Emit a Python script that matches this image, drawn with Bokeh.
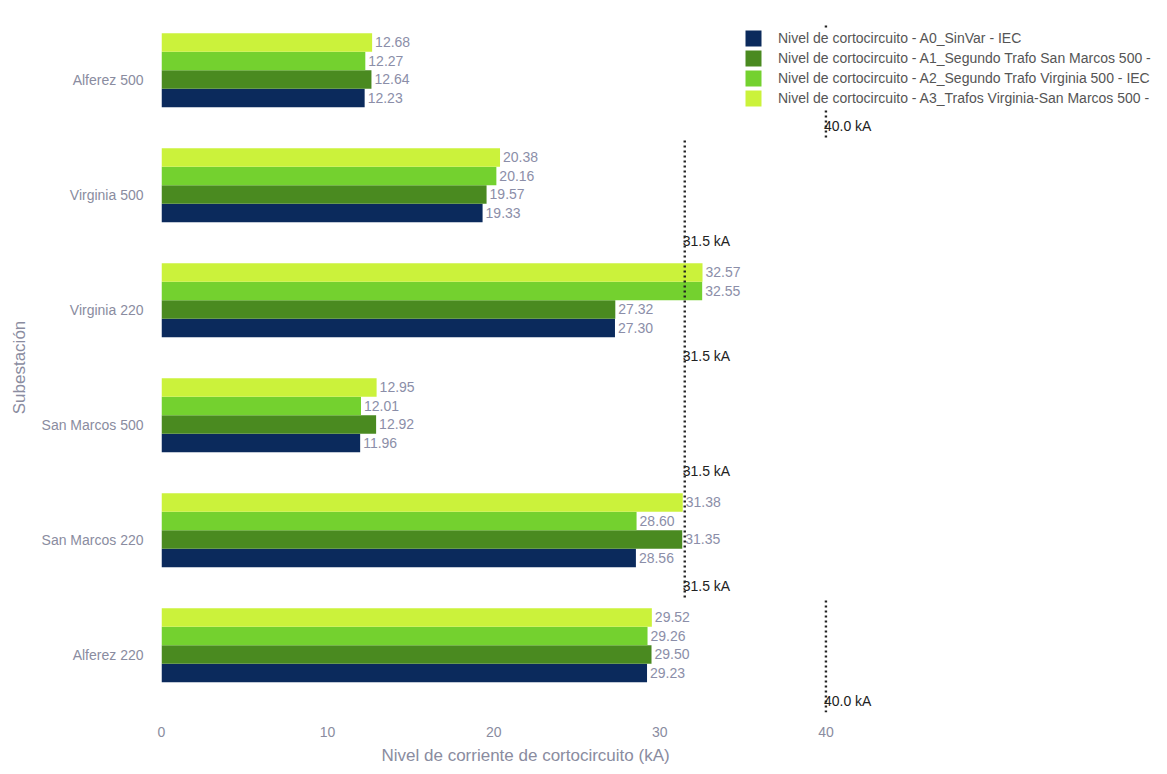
from bokeh.plotting import figure
from bokeh.models import (ColumnDataSource, FactorRange, Range1d, FixedTicker,
                          Legend, LegendItem, LabelSet, Title)
from bokeh.transform import dodge
from bokeh.core.properties import value
from bokeh.embed import file_html
from bokeh.resources import INLINE

# ---- data (top to bottom as displayed) ----
substations = ["Alferez 500", "Virginia 500", "Virginia 220",
               "San Marcos 500", "San Marcos 220", "Alferez 220"]
a0 = [12.23, 19.33, 27.30, 11.96, 28.56, 29.23]
a1 = [12.64, 19.57, 27.32, 12.92, 31.35, 29.50]
a2 = [12.27, 20.16, 32.55, 12.01, 28.60, 29.26]
a3 = [12.68, 20.38, 32.57, 12.95, 31.38, 29.52]
series_names = [
    "Nivel de cortocircuito - A0_SinVar - IEC",
    "Nivel de cortocircuito - A1_Segundo Trafo San Marcos 500 -",
    "Nivel de cortocircuito - A2_Segundo Trafo Virginia 500 - IEC",
    "Nivel de cortocircuito - A3_Trafos Virginia-San Marcos 500 -",
]
series_colors = ["#0b2a5c", "#4a8a20", "#74d12f", "#cbf23b"]

limit_subs = ["Alferez 500", "Virginia 500", "Virginia 220",
              "San Marcos 500", "San Marcos 220", "Alferez 220"]
limit_vals = [40.0, 31.5, 31.5, 31.5, 31.5, 40.0]
limit_text = ["40.0 kA", "31.5 kA", "31.5 kA", "31.5 kA", "31.5 kA", "40.0 kA"]

x_ticks = [0, 10, 20, 30, 40]
x_title = "Nivel de corriente de cortocircuito (kA)"
y_title = "Subestación"

FONT = "Liberation Sans"
GRAY = "#8a8ca0"

src = ColumnDataSource(dict(sub=substations, a0=a0, a1=a1, a2=a2, a3=a3,
                            t0=[f"{v:.2f}" for v in a0],
                            t1=[f"{v:.2f}" for v in a1],
                            t2=[f"{v:.2f}" for v in a2],
                            t3=[f"{v:.2f}" for v in a3]))
lim_src = ColumnDataSource(dict(sub=limit_subs, x=limit_vals, txt=limit_text))

p = figure(width=1151, height=773, output_backend="svg", toolbar_location=None,
           y_range=FactorRange(factors=list(reversed(substations))),
           x_range=Range1d(0, 59.6),
           min_border_left=161, min_border_right=0,
           min_border_top=22, min_border_bottom=61)

p.outline_line_color = None
p.xgrid.grid_line_color = None
p.ygrid.grid_line_color = None
p.background_fill_color = "white"
p.border_fill_color = "white"

bar_h = 0.161
offsets = [-0.156, 0.005, 0.166, 0.327]
cols = ["a0", "a1", "a2", "a3"]
tcols = ["t0", "t1", "t2", "t3"]
renderers = []
for col, tcol, off, color in zip(cols, tcols, offsets, series_colors):
    r = p.hbar(y=dodge("sub", off, range=p.y_range), left=0, right=col,
               height=bar_h, fill_color=color, line_color=None, source=src)
    renderers.append(r)
    p.text(x=col, y=dodge("sub", off, range=p.y_range), text=tcol, source=src,
           x_offset=3, text_baseline="middle", text_align="left",
           text_font=value(FONT), text_font_size="14px", text_color="#8b8ea8")

# limit lines
p.segment(x0="x", x1="x", y0=dodge("sub", -0.5, range=p.y_range),
          y1=dodge("sub", 0.5, range=p.y_range), source=lim_src,
          line_color="#222222", line_width=2.4, line_dash="2 3")
labels = LabelSet(x="x", y=dodge("sub", -0.5, range=p.y_range), text="txt",
                  source=lim_src, x_offset=-2, y_offset=4,
                  text_baseline="bottom", text_align="left",
                  text_font=value(FONT), text_font_size="14px",
                  text_color="#222222")
p.add_layout(labels)

# axes
p.xaxis.ticker = FixedTicker(ticks=x_ticks)
for ax in (p.xaxis[0], p.yaxis[0]):
    ax.axis_line_color = None
    ax.major_tick_line_color = None
    ax.minor_tick_line_color = None
    ax.major_label_text_font = FONT
    ax.major_label_text_font_size = "14px"
    ax.major_label_text_color = GRAY
    ax.axis_label_text_font = FONT
    ax.axis_label_text_font_size = "17px"
    ax.axis_label_text_font_style = "normal"
    ax.axis_label_text_color = GRAY
p.yaxis.axis_label = y_title
p.xaxis.major_label_standoff = 8
p.yaxis.major_label_standoff = 12
p.yaxis.axis_label_standoff = 10

xt = Title(text=x_title, align="left", offset=220, standoff=13,
           vertical_align="top",
           text_font=FONT, text_font_size="17px", text_font_style="normal",
           text_color=GRAY)
p.add_layout(xt, "below")

legend = Legend(items=[LegendItem(label=n, renderers=[r])
                       for n, r in zip(series_names, renderers)],
                location=(582, 604), padding=14, margin=0, spacing=0,
                glyph_width=20, glyph_height=20, label_height=20,
                label_standoff=15, label_text_font=FONT,
                label_text_font_size="14px", label_text_color="#555555",
                border_line_color=None, background_fill_color="white",
                background_fill_alpha=1.0)
p.add_layout(legend)

open("out.html", "w").write(file_html(p, INLINE))
